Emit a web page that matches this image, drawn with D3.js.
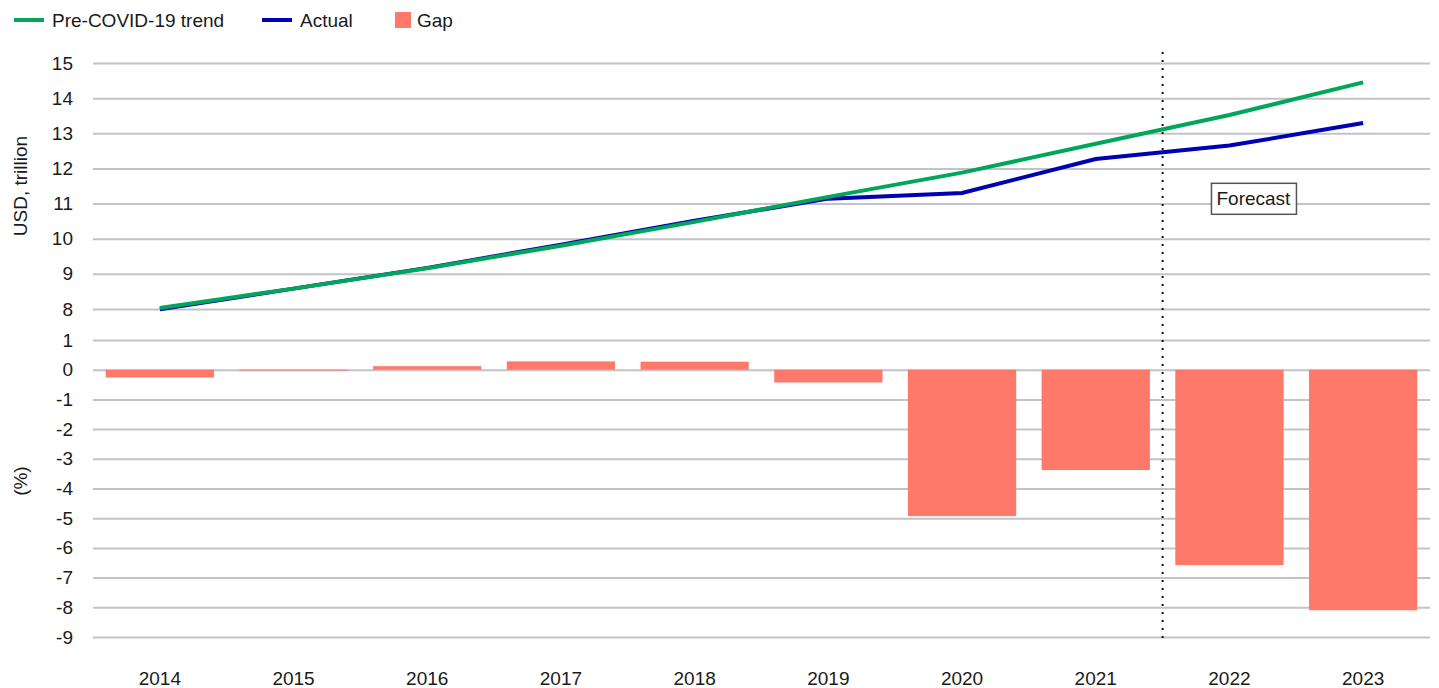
<!DOCTYPE html>
<html>
<head>
<meta charset="utf-8">
<script src="https://cdn.jsdelivr.net/npm/d3@7"></script>
<style>
  body { margin: 0; background: #fff; }
  text { font-family: "Liberation Sans Narrow", "Liberation Sans", Arial, sans-serif; fill: #1a1a1a; }
</style>
</head>
<body>
<svg id="chart" width="1439" height="688"></svg>
<script>
let svg = d3.select("#chart");

//! DATA
let years = ["2014", "2015", "2016", "2017", "2018", "2019", "2020", "2021", "2022", "2023"];
let trend = [8.03, 8.58, 9.16, 9.80, 10.48, 11.19, 11.88, 12.70, 13.52, 14.45];
let actual = [7.99, 8.58, 9.17, 9.83, 10.51, 11.14, 11.30, 12.27, 12.65, 13.29];
let gap = [-0.26, -0.03, 0.12, 0.28, 0.27, -0.43, -4.93, -3.38, -6.58, -8.1];
let usdTicks = [8, 9, 10, 11, 12, 13, 14, 15];
let pctTicks = [1, 0, -1, -2, -3, -4, -5, -6, -7, -8, -9];
let forecastStart = "2022";

let green = "#00a65a";
let blue = "#0000b4";
let salmon = "#ff796a";
let gridColor = "#c3c2c8";
let fs = 19;

//? Scales
let x = d3.scaleBand().domain(years).range([93, 1430]).paddingInner(0.19).paddingOuter(0.095);
let xc = d => x(d) + x.bandwidth() / 2;
let yTop = d3.scaleLinear().domain([8, 15]).range([309, 63]);
let yBot = d3.scaleLinear().domain([-9, 1]).range([637, 340]);

//? Gridlines + tick labels
let plain = function (d) { return String(d); };
let gTop = svg.append("g")
    .attr("transform", "translate(93,0)")
    .call(d3.axisLeft(yTop).tickValues(usdTicks).tickSize(-1337).tickPadding(20).tickFormat(plain));
let gBot = svg.append("g")
    .attr("transform", "translate(93,0)")
    .call(d3.axisLeft(yBot).tickValues(pctTicks).tickSize(-1337).tickPadding(20).tickFormat(plain));
[gTop, gBot].forEach(function (g) {
    g.select(".domain").remove();
    g.selectAll("line").attr("stroke", gridColor).attr("stroke-width", 2);
    g.selectAll("text").attr("font-size", fs).attr("fill", "#1a1a1a")
        .style("font-family", "\"Liberation Sans Narrow\", \"Liberation Sans\", Arial, sans-serif");
});

//? Bars
svg.append("g")
    .selectAll("rect")
    .data(years)
    .enter()
    .append("rect")
    .attr("x", function (d) { return x(d); })
    .attr("width", x.bandwidth())
    .attr("y", function (d, i) { return yBot(Math.max(0, gap[i])); })
    .attr("height", function (d, i) { return Math.abs(yBot(gap[i]) - yBot(0)); })
    .attr("fill", salmon);

//? Forecast divider
let divX = x(forecastStart) - x.step() * x.paddingInner() / 2;
svg.append("line")
    .attr("x1", divX).attr("x2", divX)
    .attr("y1", 52).attr("y2", 643)
    .attr("stroke", "#111")
    .attr("stroke-width", 2)
    .attr("stroke-dasharray", "2,6");

//? Lines
let line = function (vals) {
    return d3.line()
        .x(function (d, i) { return xc(years[i]); })
        .y(function (d) { return yTop(d); })(vals);
};
svg.append("path").attr("d", line(actual)).attr("fill", "none").attr("stroke", blue).attr("stroke-width", 4);
svg.append("path").attr("d", line(trend)).attr("fill", "none").attr("stroke", green).attr("stroke-width", 4);

//? Forecast label
let fx = xc("2022") + 24;
let fy = yTop(11.15);
svg.append("rect")
    .attr("x", fx - 42).attr("y", fy - 15)
    .attr("width", 85).attr("height", 31)
    .attr("fill", "#fff").attr("stroke", "#555").attr("stroke-width", 1.5);
svg.append("text")
    .attr("x", fx).attr("y", fy + 6.5)
    .attr("text-anchor", "middle").attr("font-size", fs)
    .text("Forecast");

//? X labels
svg.append("g")
    .selectAll("text")
    .data(years)
    .enter()
    .append("text")
    .attr("x", function (d) { return xc(d); })
    .attr("y", 685)
    .attr("text-anchor", "middle")
    .attr("font-size", fs)
    .text(function (d) { return d; });

//? Axis titles
svg.append("text")
    .attr("transform", "translate(27," + (yTop(11.5)) + ") rotate(-90)")
    .attr("text-anchor", "middle").attr("font-size", fs)
    .text("USD, trillion");
svg.append("text")
    .attr("transform", "translate(27," + (yBot(-3.75)) + ") rotate(-90)")
    .attr("text-anchor", "middle").attr("font-size", fs)
    .text("(%)");

//? Legend
let legend = [
    { name: "Pre-COVID-19 trend", color: green, type: "line", x: 14 },
    { name: "Actual", color: blue, type: "line", x: 262 },
    { name: "Gap", color: salmon, type: "rect", x: 395 }
];
legend.forEach(function (l) {
    if (l.type === "line") {
        svg.append("line").attr("x1", l.x).attr("x2", l.x + 30).attr("y1", 20).attr("y2", 20)
            .attr("stroke", l.color).attr("stroke-width", 4);
        svg.append("text").attr("x", l.x + 38).attr("y", 27).attr("font-size", fs).text(l.name);
    } else {
        svg.append("rect").attr("x", l.x).attr("y", 12).attr("width", 16).attr("height", 16).attr("fill", l.color);
        svg.append("text").attr("x", l.x + 22).attr("y", 27).attr("font-size", fs).text(l.name);
    }
});
</script>
</body>
</html>
